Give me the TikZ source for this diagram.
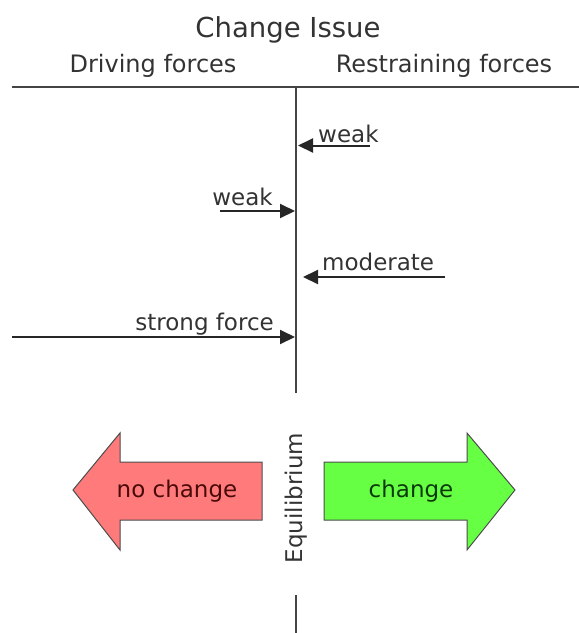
\documentclass[tikz,border=0pt]{standalone}
\usepackage{fontspec}
\setmainfont{DejaVu Sans}
\usetikzlibrary{arrows.meta}
\definecolor{redfill}{HTML}{FF7B7B}
\definecolor{greenfill}{HTML}{66FF44}
\definecolor{linegray}{HTML}{444444}
\definecolor{redtext}{HTML}{4A0A0A}
\definecolor{greentext}{HTML}{0A3A0A}
\tikzset{
  lbl/.style={inner sep=0pt, font=\fontsize{23}{28}\selectfont, text=black!80},
  head/.style={inner sep=0pt, font=\fontsize{24}{29}\selectfont, text=black!80},
  force/.style={line width=2pt, draw=black!85, -{Triangle[length=15pt,width=14pt]}},
  rule/.style={line width=2pt, draw=linegray},
  bigarrow/.style={draw=black!70, line width=1pt, line join=miter}
}
\begin{document}
\begin{tikzpicture}[x=1pt,y=-1pt]
\useasboundingbox (0,0) rectangle (579,633);
% title and headers
\node[inner sep=0pt, font=\fontsize{27.5}{33}\selectfont, text=black!80, anchor=base] (title) at (288,37) {Change Issue};
\node[head, anchor=base] (driving) at (153,72) {Driving forces};
\node[head, anchor=base] (restr) at (444,72) {Restraining forces};
% rules
\coordinate (hl) at (12,87);
\coordinate (hr) at (579,87);
\coordinate (vt) at (295.5,87);
\coordinate (vb) at (295.5,393);
\draw[rule] (hl) -- (hr);
\draw[rule] (vt) -- (vb);
\coordinate (bt) at (295.5,595);
\coordinate (bb) at (295.5,633);
\draw[rule] (bt) -- (bb);
% restraining weak
\node[lbl, anchor=base west] (rw) at (318,142) {weak};
\coordinate (rws) at (370,145.5);
\coordinate (rwe) at (298,145.5);
\draw[force] (rws) -- (rwe);
% driving weak
\node[lbl, anchor=base east] (dw) at (273,205) {weak};
\coordinate (dws) at (220,211);
\coordinate (dwe) at (295,211);
\draw[force] (dws) -- (dwe);
% moderate
\node[lbl, anchor=base west] (mod) at (322,270) {moderate};
\coordinate (ms) at (445,277);
\coordinate (me) at (303,277);
\draw[force] (ms) -- (me);
% strong force
\node[lbl, anchor=base east] (sf) at (274,330) {strong force};
\coordinate (ss) at (12,337);
\coordinate (se) at (295,337);
\draw[force] (ss) -- (se);
% equilibrium
\node[lbl, rotate=90, anchor=center] (eq) at (296,498) {Equilibrium};
% no change arrow
\draw[bigarrow, fill=redfill] (73,490) -- (120,433) -- (120,462) -- (262,462) -- (262,520) -- (120,520) -- (120,550) -- cycle;
\node[lbl, text=redtext] (nc) at (177,491) {no change};
% change arrow
\draw[bigarrow, fill=greenfill] (515,490) -- (467,433) -- (467,462) -- (324,462) -- (324,520) -- (467,520) -- (467,550) -- cycle;
\node[lbl, text=greentext] (ch) at (411,491) {change};
\end{tikzpicture}
\end{document}
